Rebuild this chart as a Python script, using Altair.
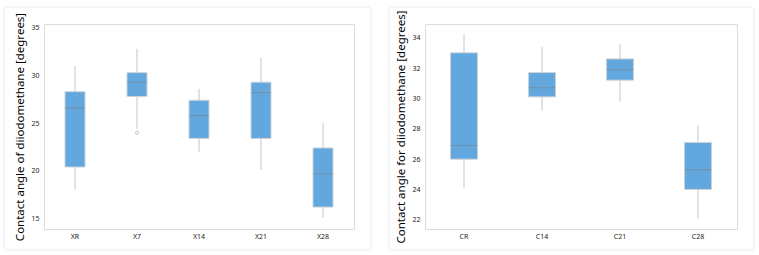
import altair as alt
import pandas as pd

# Left panel: XR..X28 samples
x_groups = ["XR", "X7", "X14", "X21", "X28"]
x_low = [18.1, 24.4, 22.0, 20.1, 15.1]
x_q1 = [20.4, 27.8, 23.4, 23.4, 16.2]
x_median = [26.6, 29.3, 25.8, 28.2, 19.7]
x_q3 = [28.3, 30.3, 27.4, 29.3, 22.4]
x_high = [31.0, 32.8, 28.6, 31.9, 25.0]
x_outlier_group = ["X7"]
x_outlier_value = [24.0]

# Right panel: CR..C28 samples
c_groups = ["CR", "C14", "C21", "C28"]
c_low = [24.1, 29.2, 29.8, 22.1]
c_q1 = [26.0, 30.1, 31.2, 24.0]
c_median = [26.9, 30.7, 31.9, 25.3]
c_q3 = [33.0, 31.7, 32.6, 27.1]
c_high = [34.2, 33.4, 33.6, 28.2]

BOX_FILL = "#62a7dd"
BOX_EDGE = "#cfd3d6"
WHISKER = "#c6c6c6"
MEDIAN = "#7d8893"
FONT = "Noto Sans"


def box_panel(groups, low, q1, med, q3, high, y_title, y_domain, y_ticks,
              width, height, box_w, card_left, outliers=None):
    df = pd.DataFrame({"group": groups, "low": low, "q1": q1, "median": med,
                       "q3": q3, "high": high})
    x = alt.X("group:N", sort=groups, title=None,
              scale=alt.Scale(paddingInner=0, paddingOuter=0),
              axis=alt.Axis(labelAngle=0, ticks=False, domain=False,
                            labelPadding=3))
    yscale = alt.Scale(domain=y_domain, nice=False, zero=False)
    yaxis = alt.Axis(values=y_ticks, ticks=False, domain=False, grid=False,
                     labelOverlap=False, labelPadding=5, titlePadding=5)

    def y(field):
        return alt.Y(field, scale=yscale, axis=yaxis, title=y_title)

    # light rounded card around each panel
    card = alt.Chart(pd.DataFrame({"k": [0]})).mark_rect(
        fill="white", fillOpacity=0, stroke="#ececec", strokeWidth=1,
        cornerRadius=3
    ).encode(x=alt.value(card_left), x2=alt.value(width + 17),
             y=alt.value(-17), y2=alt.value(height + 21))

    base = alt.Chart(df)
    whisk = base.mark_rule(color=WHISKER, strokeWidth=1).encode(
        x=x, y=y("low:Q"), y2="high:Q")
    box = base.mark_bar(size=box_w, fill=BOX_FILL, stroke=BOX_EDGE,
                        strokeWidth=1).encode(x=x, y=y("q1:Q"), y2="q3:Q")
    mid = base.mark_tick(size=box_w, thickness=1, color=MEDIAN).encode(
        x=x, y=y("median:Q"))
    layers = [card, whisk, box, mid]
    if outliers is not None:
        odf = pd.DataFrame({"group": outliers[0], "value": outliers[1]})
        layers.append(
            alt.Chart(odf).mark_point(shape="circle", size=10, color="#b0b0b0",
                                      strokeWidth=1).encode(x=x, y=y("value:Q")))
    return alt.layer(*layers).properties(width=width, height=height)


left = box_panel(x_groups, x_low, x_q1, x_median, x_q3, x_high,
                 "Contact angle of diiodomethane [degrees]", [13.9, 35.4],
                 [15, 20, 25, 30, 35], 310, 205, 20, -40,
                 outliers=(x_outlier_group, x_outlier_value))
right = box_panel(c_groups, c_low, c_q1, c_median, c_q3, c_high,
                  "Contact angle for diiodomethane [degrees]", [21.4, 34.9],
                  [22, 24, 26, 28, 30, 32, 34], 312, 205, 27, -36)

chart = alt.hconcat(left, right, spacing=71, bounds="flush").configure_view(
    stroke="#dcdcdc", strokeWidth=1
).configure_axis(
    labelFont=FONT, labelFontSize=7, labelColor="#222222",
    titleFont=FONT, titleFontSize=11.5, titleFontWeight="normal",
    titleColor="#000000",
).configure_axisY(
    labelOverlap=False,
).properties(
    padding={"left": 3, "top": 6, "right": 0, "bottom": 0},
    background="#ffffff",
)

chart.save("out.html", embed_options={"renderer": "svg", "actions": False})
